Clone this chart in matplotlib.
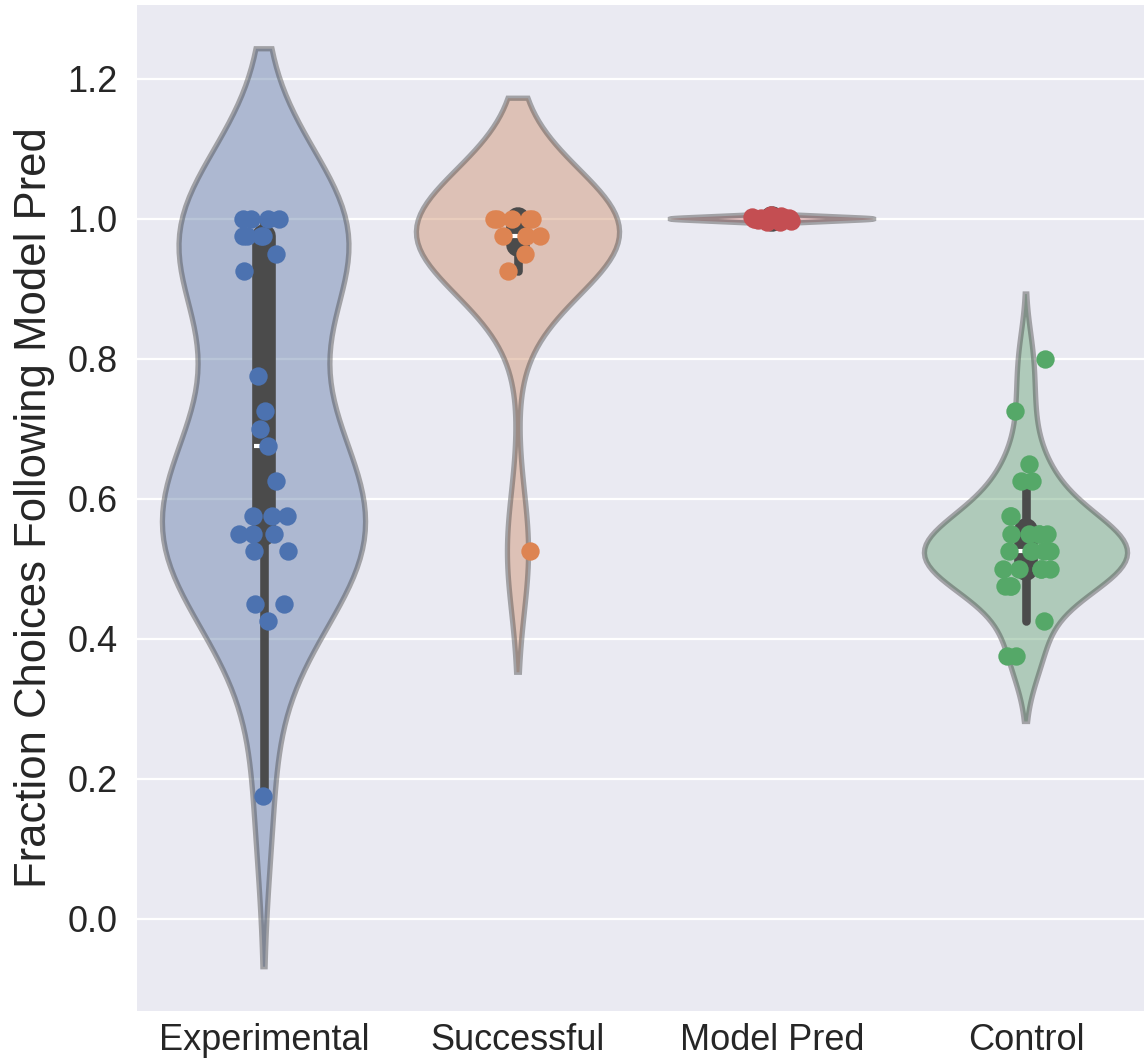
import numpy as np
import matplotlib
matplotlib.use("Agg")
import matplotlib.pyplot as plt
from matplotlib.patches import Polygon

# ---------------- data ----------------
categories = ["Experimental", "Successful", "Model Pred", "Control"]

experimental = [1.0, 1.0, 1.0, 1.0, 0.975, 0.975, 0.975, 0.975, 0.95, 0.925,
                0.775, 0.725, 0.70, 0.675, 0.625,
                0.575, 0.575, 0.575, 0.55, 0.55, 0.55, 0.525, 0.525,
                0.45, 0.45, 0.425, 0.175]
successful = [1.0, 1.0, 1.0, 1.0, 1.0, 0.975, 0.975, 0.975, 0.95, 0.925, 0.525]
model_pred = [1.0, 0.998, 1.002, 0.996, 1.004, 1.0, 0.999, 1.001, 0.997, 1.003,
              1.0, 0.995, 1.005, 1.0, 0.998, 1.002]
control = [0.80, 0.725, 0.65, 0.625, 0.625, 0.575, 0.575,
           0.55, 0.55, 0.55, 0.55, 0.55,
           0.525, 0.525, 0.525, 0.525, 0.525,
           0.50, 0.50, 0.50, 0.50, 0.50,
           0.475, 0.475, 0.475, 0.425, 0.375, 0.375]

series = [experimental, successful, model_pred, control]
colors = ["#4C72B0", "#DD8452", "#C44E52", "#55A868"]
yticks = [0.0, 0.2, 0.4, 0.6, 0.8, 1.0, 1.2]
ylabel = "Fraction Choices Following Model Pred"

# ---------------- style ----------------
FONT = ["Liberation Sans", "DejaVu Sans"]
plt.rcParams["font.family"] = FONT
TEXT = "#262626"
BG = "#EAEAF2"


def desaturate(c, prop=0.75):
    import colorsys
    r, g, b = matplotlib.colors.to_rgb(c)
    h, l, s = colorsys.rgb_to_hls(r, g, b)
    return colorsys.hls_to_rgb(h, l, s * prop)


def kde(vals, gridsize=100, cut=2):
    v = np.asarray(vals, float)
    n = len(v)
    bw = n ** (-1 / 5) * v.std(ddof=1)
    sup = np.linspace(v.min() - cut * bw, v.max() + cut * bw, gridsize)
    d = np.exp(-0.5 * ((sup[:, None] - v[None, :]) / bw) ** 2).sum(1)
    d /= n * bw * np.sqrt(2 * np.pi)
    return sup, d


W, H = 1144, 1060
fig = plt.figure(figsize=(W / 100, H / 100), dpi=100)
ax = fig.add_axes([137 / W, (H - 1010.7) / H, (1153 - 137) / W, (1010.7 - 5) / H])
ax.set_facecolor(BG)
for s in ax.spines.values():
    s.set_visible(False)

gray_lum = 0.296
gray = (gray_lum, gray_lum, gray_lum)
alpha = 0.42

rng = np.random.default_rng(3)

for i, (vals, col) in enumerate(zip(series, colors)):
    sup, d = kde(vals)
    d = d / d.max() * 0.4
    xs = np.concatenate([i - d, (i + d)[::-1]])
    ys = np.concatenate([sup, sup[::-1]])
    fc = desaturate(col)
    poly = Polygon(np.column_stack([xs, ys]), closed=True,
                   facecolor=(*fc, alpha), edgecolor=(*gray, 0.45),
                   linewidth=3.8, zorder=2)
    ax.add_patch(poly)

    v = np.asarray(vals, float)
    q1, med, q3 = np.percentile(v, [25, 50, 75])
    iqr = q3 - q1
    lo = v[v >= q1 - 1.5 * iqr].min()
    hi = v[v <= q3 + 1.5 * iqr].max()
    ax.plot([i, i], [lo, hi], color=gray, lw=6.2, solid_capstyle="round", zorder=3)
    ax.plot([i, i], [q1, q3], color=gray, lw=17, solid_capstyle="round", zorder=3)
    ax.plot([i], [med], marker="_", color="white", markersize=14, mew=3, zorder=4)

    jit = rng.uniform(-0.1, 0.1, len(v))
    ax.scatter(i + jit, v, s=175, color=col, linewidths=0, zorder=5)

ax.set_xlim(-0.5, 3.5)
ax.set_ylim(-0.131, 1.3057)
ax.set_xticks(range(len(categories)))
ax.set_xticklabels(categories)
ax.set_yticks(yticks)
ax.set_yticklabels([f"{t:.1f}" for t in yticks])
ax.tick_params(axis="both", length=0, labelsize=26, colors=TEXT)
ax.tick_params(axis="y", pad=14)
ax.tick_params(axis="x", pad=9)
ax.yaxis.grid(True, color="white", linewidth=1.6, zorder=0)
ax.xaxis.grid(False)
ax.set_axisbelow(True)
ax.set_ylabel(ylabel, fontsize=31.4, color=TEXT, labelpad=9)

fig.savefig("out.png", dpi=100, facecolor="white")
